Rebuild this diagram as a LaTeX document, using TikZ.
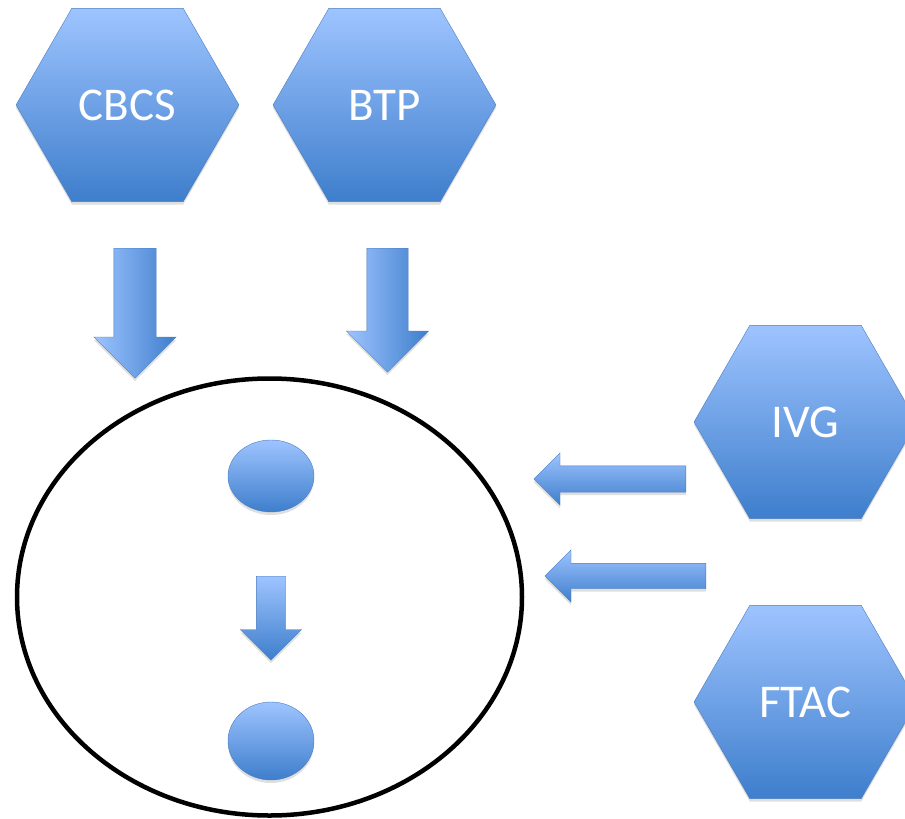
\documentclass[tikz,border=0pt]{standalone}
\usepackage{fontspec}
\setmainfont{Carlito}
\usetikzlibrary{shapes.geometric,shapes.arrows,shadows}
\definecolor{hexlight}{RGB}{158,196,255}
\definecolor{hexdark}{RGB}{62,126,204}
\definecolor{hexline}{RGB}{74,124,192}
\newcommand{\hexlabel}[1]{\raisebox{-2.5pt}{#1}}
\tikzset{
  softshadow/.style={drop shadow={opacity=0.25,shadow xshift=0pt,shadow yshift=-3pt}},
  hexa/.style={regular polygon, regular polygon sides=6, minimum size=223pt, inner sep=0pt,
    draw=hexline, top color=hexlight, bottom color=hexdark, text=white,
    font=\fontsize{47}{56}\selectfont, softshadow},
  blob/.style={ellipse, inner sep=0pt, draw=hexline, top color=hexlight, bottom color=hexdark, softshadow},
  downarrow/.style={single arrow, shape border rotate=270, single arrow head indent=0pt, anchor=tail,
    draw=hexline, left color=hexlight, right color=hexdark, softshadow},
  leftarrow/.style={single arrow, shape border rotate=180, single arrow head indent=0pt, anchor=tail,
    draw=hexline, top color=hexlight, bottom color=hexdark, softshadow}
}

\begin{document}
\begin{tikzpicture}[x=1pt,y=-1pt]
    \useasboundingbox (0,0) rectangle (905,819);

    \node [hexa] (cbcs) at (127.5,105) {\hexlabel{CBCS}};
    \node [hexa] (btp) at (384.5,105) {\hexlabel{BTP}};
    \node [hexa] (ivg) at (805.5,422) {\hexlabel{IVG}};
    \node [hexa] (ftac) at (805.5,702) {\hexlabel{FTAC}};

    \node [downarrow, inner sep=21pt, minimum height=130pt, single arrow head extend=20pt] (cbcsarrow) at (135,248) {};
    \node [downarrow, inner sep=20.5pt, minimum height=124pt, single arrow head extend=20.5pt] (btparrow) at (387.5,248) {};
    \node [leftarrow, inner sep=13pt, minimum height=152pt, single arrow head extend=13pt] (ivgarrow) at (686,479) {};
    \node [leftarrow, inner sep=12.5pt, minimum height=161pt, single arrow head extend=13.5pt] (ftacarrow) at (706,576) {};

    \node [ellipse, draw, line width=4.5pt, minimum width=505pt, minimum height=437pt] (cell) at (269.5,597) {};
    \node [blob, minimum width=86pt, minimum height=72pt] (upper) at (271,476) {};
    \node [downarrow, top color=hexlight, bottom color=hexdark, inner sep=14.5pt, minimum height=84pt, single arrow head extend=16pt] (innerarrow) at (271,576) {};
    \node [blob, minimum width=86pt, minimum height=78pt] (lower) at (271,741) {};
\end{tikzpicture}
\end{document}
